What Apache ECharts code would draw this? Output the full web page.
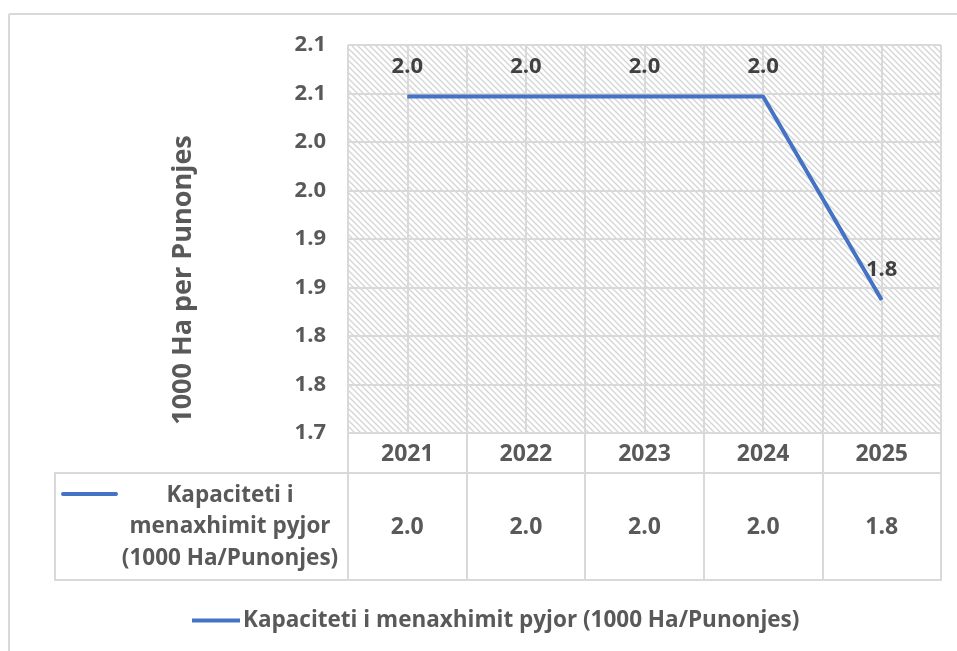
<!DOCTYPE html>
<html>
<head>
<meta charset="utf-8">
<script src="https://cdn.jsdelivr.net/npm/echarts@6/dist/echarts.min.js"></script>
<style>
html,body{margin:0;padding:0;background:#fff;}
#c{width:957px;height:651px;}
</style>
</head>
<body>
<div id="c"></div>
<script>
// ---- data ----
var categories = ['2021', '2022', '2023', '2024', '2025'];
var seriesName = 'Kapaciteti i menaxhimit pyjor (1000 Ha/Punonjes)';
var values = [2.047, 2.047, 2.047, 2.047, 1.837];
var yAxisTitle = '1000 Ha per Punonjes';
var tableRowLabel = 'Kapaciteti i\nmenaxhimit pyjor\n(1000 Ha/Punonjes)';
var yMin = 1.7, yMax = 2.1, yStep = 0.05;

// ---- style ----
var FONT = '"Open Sans"';
var GRAY = '#595959';
var LINE = '#4472C4';
var GRID = '#d9d9d9';

function fmt1(v) { return (Math.round(v * 10 + 1e-6) / 10).toFixed(1); }

function hatch() {
  var s = 6;
  var cv = document.createElement('canvas');
  cv.width = s; cv.height = s;
  var ctx = cv.getContext('2d');
  ctx.fillStyle = '#ffffff';
  ctx.fillRect(0, 0, s, s);
  ctx.strokeStyle = '#d4d4d4';
  ctx.lineWidth = 1.3;
  ctx.beginPath();
  ctx.moveTo(-1, -1); ctx.lineTo(s + 1, s + 1);
  ctx.moveTo(-1, s - 1); ctx.lineTo(1, s + 1);
  ctx.moveTo(s - 1, -1); ctx.lineTo(s + 1, 1);
  ctx.stroke();
  return cv;
}

var plot = {left: 348, top: 45, width: 593, height: 388};
var table = {left: 348, top: 433, width: 593, height: 147};

var chart = echarts.init(document.getElementById('c'), null, {renderer: 'canvas'});
chart.setOption({
  animation: false,
  backgroundColor: '#ffffff',
  textStyle: {fontFamily: FONT},
  grid: [
    {left: plot.left, top: plot.top, width: plot.width, height: plot.height,
     show: true, backgroundColor: {image: hatch(), repeat: 'repeat'}, borderWidth: 0},
    {left: table.left, top: table.top, width: table.width, height: table.height,
     show: true, backgroundColor: 'transparent', borderColor: GRID, borderWidth: 2}
  ],
  xAxis: [
    {type: 'category', gridIndex: 0, data: categories, boundaryGap: true,
     axisLine: {show: false}, axisTick: {show: false}, axisLabel: {show: false}, splitLine: {show: false}},
    {type: 'value', gridIndex: 0, min: 0, max: categories.length * 2, interval: 1,
     axisLine: {show: false}, axisTick: {show: false}, axisLabel: {show: false},
     splitLine: {show: true, lineStyle: {color: GRID, width: 2}}},
    {type: 'category', gridIndex: 1, position: 'top', data: categories, boundaryGap: true,
     axisLine: {show: false}, axisTick: {show: false},
     axisLabel: {inside: true, margin: 10, color: GRAY, fontSize: 23, fontWeight: 'bold', fontFamily: FONT},
     splitLine: {show: true, interval: 0, lineStyle: {color: GRID, width: 2}}},
    {type: 'category', gridIndex: 1, position: 'bottom',
     data: values.map(fmt1), boundaryGap: true,
     axisLine: {show: false}, axisTick: {show: false},
     axisLabel: {inside: true, margin: 41, color: GRAY, fontSize: 23, fontWeight: 'bold', fontFamily: FONT},
     splitLine: {show: false}}
  ],
  yAxis: [
    {type: 'value', gridIndex: 0, min: yMin, max: yMax, interval: yStep,
     axisLine: {show: false}, axisTick: {show: false},
     axisLabel: {margin: 22, color: GRAY, fontSize: 22, fontWeight: 'bold', fontFamily: FONT,
       formatter: fmt1},
     splitLine: {show: true, lineStyle: {color: GRID, width: 2}}},
    {type: 'value', gridIndex: 1, show: false, splitLine: {show: false}}
  ],
  legend: {
    left: 187, top: 604,
    icon: 'rect', itemWidth: 48, itemHeight: 4, itemGap: 10,
    textStyle: {color: GRAY, fontSize: 22.5, fontWeight: 'bold', fontFamily: FONT, padding: [0, 0, 0, -2]},
    data: [seriesName]
  },
  series: [{
    name: seriesName, type: 'line', xAxisIndex: 0, yAxisIndex: 0,
    data: values, showSymbol: true, symbol: 'circle', symbolSize: 0.1,
    lineStyle: {color: LINE, width: 4},
    itemStyle: {color: LINE},
    label: {show: true, position: 'top', distance: 19, color: '#404040',
      fontSize: 22, fontWeight: 'bold', fontFamily: FONT,
      formatter: function (p) { return fmt1(p.value); }}
  }],
  graphic: [
    // outer chart border
    {type: 'line', silent: true, shape: {x1: 9, y1: 14, x2: 957, y2: 14}, style: {stroke: GRID, lineWidth: 2}},
    {type: 'line', silent: true, shape: {x1: 9, y1: 14, x2: 9, y2: 651}, style: {stroke: GRID, lineWidth: 2}},
    // data table: row frame across the label cell
    {type: 'rect', silent: true, shape: {x: 55, y: 473, width: 886, height: 107},
     style: {fill: 'none', stroke: GRID, lineWidth: 2}},
    // legend key in the table
    {type: 'line', silent: true, shape: {x1: 63, y1: 494, x2: 116, y2: 494},
     style: {stroke: LINE, lineWidth: 4, lineCap: 'round'}},
    {type: 'text', silent: true, x: 230, y: 527,
     style: {text: tableRowLabel, align: 'center', verticalAlign: 'middle',
       fill: GRAY, font: 'bold 22.5px ' + FONT, lineHeight: 31.5}},
    // y axis title
    {type: 'text', silent: true, x: 183, y: 280, rotation: Math.PI / 2,
     style: {text: yAxisTitle, align: 'center', verticalAlign: 'middle',
       fill: GRAY, font: 'bold 27px ' + FONT}}
  ]
});
</script>
</body>
</html>
